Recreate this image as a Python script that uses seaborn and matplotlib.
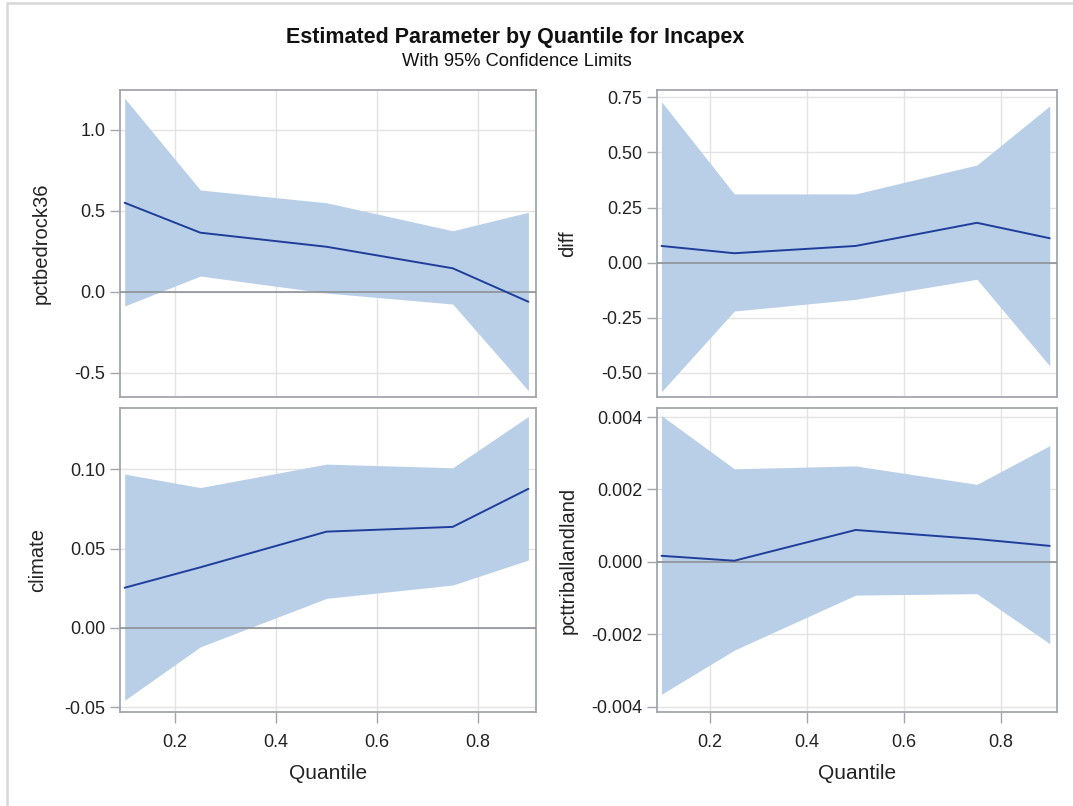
import numpy as np
import pandas as pd
import seaborn as sbrn
import matplotlib.pyplot as plt
from matplotlib.lines import Line2D

# quantile regression estimates with 95% limits
quantiles = [0.1, 0.25, 0.5, 0.75, 0.9]
params = ["pctbedrock36", "diff", "climate", "pcttriballandland"]

est_pctbedrock36 = [0.550, 0.365, 0.278, 0.145, -0.062]
lo_pctbedrock36 = [-0.088, 0.097, -0.008, -0.076, -0.612]
hi_pctbedrock36 = [1.196, 0.629, 0.550, 0.377, 0.491]

est_diff = [0.076, 0.043, 0.076, 0.181, 0.111]
lo_diff = [-0.585, -0.219, -0.166, -0.075, -0.468]
hi_diff = [0.730, 0.312, 0.312, 0.443, 0.711]

est_climate = [0.0253, 0.0382, 0.0607, 0.0637, 0.0877]
lo_climate = [-0.0457, -0.0120, 0.0186, 0.0270, 0.0428]
hi_climate = [0.0970, 0.0885, 0.1033, 0.1010, 0.1334]

est_tribal = [0.000166, 0.00003, 0.00088, 0.00063, 0.00044]
lo_tribal = [-0.00366, -0.00244, -0.00092, -0.00088, -0.00226]
hi_tribal = [0.00404, 0.00257, 0.00265, 0.00214, 0.00321]

estimates = [est_pctbedrock36, est_diff, est_climate, est_tribal]
lowers = [lo_pctbedrock36, lo_diff, lo_climate, lo_tribal]
uppers = [hi_pctbedrock36, hi_diff, hi_climate, hi_tribal]

y_ticks = [
    [-0.5, 0.0, 0.5, 1.0],
    [-0.50, -0.25, 0.00, 0.25, 0.50, 0.75],
    [-0.05, 0.00, 0.05, 0.10],
    [-0.004, -0.002, 0.000, 0.002, 0.004],
]
y_fmt = ["{:.1f}", "{:.2f}", "{:.2f}", "{:.3f}"]
y_lims = [(-0.651, 1.247), (-0.609, 0.783), (-0.0531, 0.1387), (-0.00415, 0.00425)]

band_color = "#b9cfe7"
line_color = "#1f3e9c"
frame_color = "#a3a6aa"
text_color = "#222222"

sbrn.set_style("whitegrid")
plt.rcParams["font.family"] = ["Liberation Sans", "DejaVu Sans"]

W, H = 1073, 806
fig = plt.figure(figsize=(W / 100, H / 100), dpi=100)
# panel boxes in figure fractions: left, bottom, width, height
boxes = [
    (0.1118, 0.5074, 0.3877, 0.3809),
    (0.6123, 0.5074, 0.3728, 0.3809),
    (0.1118, 0.1166, 0.3877, 0.3772),
    (0.6123, 0.1166, 0.3728, 0.3772),
]
# horizontal pixel centre of each rotated y label
label_x_px = [41, 568, 38, 568]

for i, name in enumerate(params):
    ax = fig.add_axes(boxes[i])
    df = pd.DataFrame({
        "Quantile": quantiles,
        "est": estimates[i],
        "lo": lowers[i],
        "hi": uppers[i],
    })
    ax.fill_between(df["Quantile"], df["lo"], df["hi"], color=band_color,
                    linewidth=0, zorder=2)
    ax.axhline(0, color="#8e9196", linewidth=1.2, zorder=3)
    sbrn.lineplot(data=df, x="Quantile", y="est", ax=ax, color=line_color,
                  linewidth=1.4, zorder=4)

    ax.set_xlim(0.0907, 0.915)
    ax.set_ylim(*y_lims[i])
    ax.set_xticks([0.2, 0.4, 0.6, 0.8])
    ax.set_yticks(y_ticks[i])
    ax.set_yticklabels([y_fmt[i].format(v) for v in y_ticks[i]])
    ax.grid(True, color="#e3e3e3", linewidth=1.0)
    ax.set_axisbelow(True)
    for sp in ax.spines.values():
        sp.set_color(frame_color)
        sp.set_linewidth(1.3)
    ax.tick_params(axis="y", left=True, length=7.5, width=1, color=frame_color,
                   labelsize=13, labelcolor=text_color, pad=3)
    ax.set_ylabel(name, fontsize=14.5, color=text_color, va="center")
    left_px = boxes[i][0] * W
    width_px = boxes[i][2] * W
    ax.yaxis.set_label_coords((label_x_px[i] - left_px) / width_px, 0.5)
    if i < 2:
        ax.tick_params(axis="x", bottom=False, labelbottom=False)
        ax.set_xlabel("")
    else:
        ax.tick_params(axis="x", bottom=True, length=8, width=1,
                       color=frame_color, labelsize=13,
                       labelcolor=text_color, pad=8)
        ax.set_xlabel("Quantile", fontsize=15, color=text_color, labelpad=9)

fig.text(515 / W, 1 - 38 / H, "Estimated Parameter by Quantile for Incapex",
         ha="center", va="center", fontsize=15.5, fontweight="bold",
         color="#111111")
fig.text(517 / W, 1 - 62 / H, "With 95% Confidence Limits", ha="center",
         va="center", fontsize=13.2, color="#111111")

# outer frame: only the top and left edges fall inside the image
x0, y0 = 6.5 / W, 1 - 2.5 / H
fig.lines.append(Line2D([x0, x0], [0, y0], transform=fig.transFigure,
                        color="#d8d8d8", linewidth=1.8))
fig.lines.append(Line2D([x0, 1], [y0, y0], transform=fig.transFigure,
                        color="#d8d8d8", linewidth=1.8))

plt.savefig("out.png", dpi=100)
